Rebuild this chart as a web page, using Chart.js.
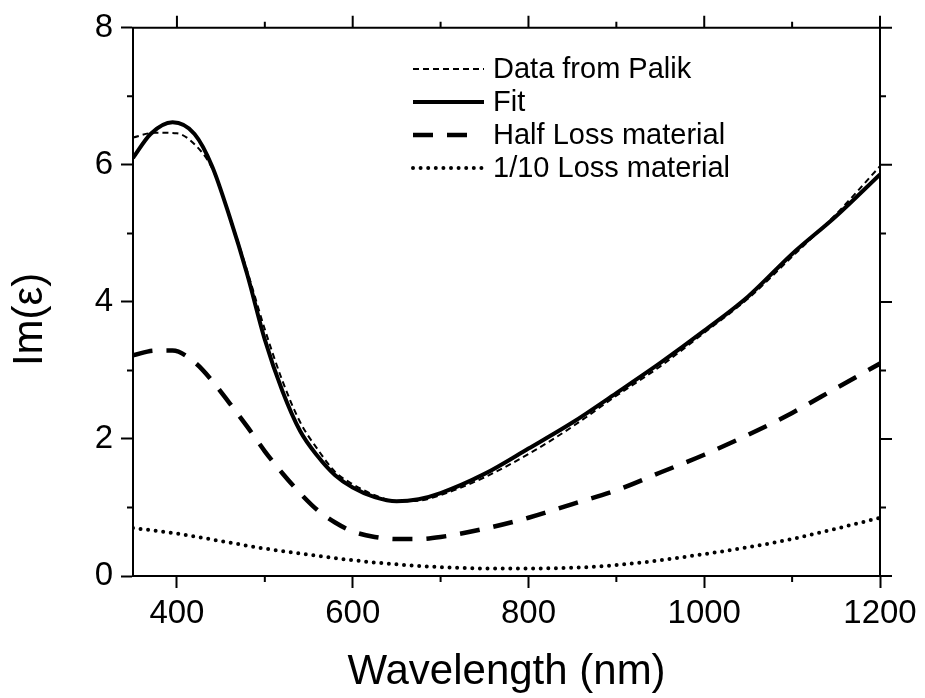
<!DOCTYPE html>
<html lang="en">
<head>
    <meta charset="UTF-8">
    <title>Im(ε) vs wavelength</title>
    <script src="https://cdn.jsdelivr.net/npm/chart.js"></script>
    <style>
        body {
            margin: 0;
            background-color: white;
        }
        .chart-box {
            width: 925px;
            height: 698px;
            position: relative;
        }
    </style>
</head>
<body>
    <div class="chart-box">
        <canvas id="epsChart"></canvas>
    </div>

    <script>
        // Imaginary part of the permittivity, read per series
        const palikWl = [350, 375, 400, 420, 440, 460, 480, 500, 520, 540, 560, 580, 600, 625, 650, 675, 700, 750, 800, 850, 900, 950, 1000, 1050, 1100, 1150, 1200];
        const palikIm = [6.40, 6.47, 6.46, 6.30, 5.95, 5.25, 4.45, 3.60, 2.85, 2.25, 1.85, 1.52, 1.34, 1.18, 1.09, 1.10, 1.18, 1.44, 1.78, 2.18, 2.63, 3.06, 3.55, 4.05, 4.66, 5.28, 5.98];

        const fitWl = [350, 370, 395, 420, 440, 460, 480, 500, 520, 540, 560, 580, 600, 625, 650, 675, 700, 750, 800, 850, 900, 950, 1000, 1050, 1100, 1150, 1200];
        const fitIm = [6.10, 6.45, 6.62, 6.45, 5.98, 5.24, 4.40, 3.45, 2.70, 2.12, 1.75, 1.47, 1.29, 1.15, 1.09, 1.12, 1.21, 1.49, 1.86, 2.24, 2.67, 3.11, 3.58, 4.08, 4.70, 5.25, 5.86];

        const halfWl = [350, 375, 395, 420, 440, 460, 480, 500, 520, 540, 560, 580, 600, 625, 650, 675, 700, 750, 800, 850, 900, 950, 1000, 1050, 1100, 1150, 1200];
        const halfIm = [3.22, 3.29, 3.29, 3.12, 2.85, 2.52, 2.18, 1.82, 1.50, 1.21, 0.96, 0.78, 0.65, 0.57, 0.54, 0.54, 0.57, 0.69, 0.85, 1.05, 1.25, 1.51, 1.77, 2.06, 2.38, 2.74, 3.10];

        const tenthWl = [350, 400, 450, 500, 550, 600, 650, 700, 750, 800, 850, 900, 950, 1000, 1050, 1100, 1150, 1200];
        const tenthIm = [0.70, 0.62, 0.51, 0.40, 0.31, 0.23, 0.17, 0.13, 0.11, 0.11, 0.12, 0.16, 0.23, 0.32, 0.42, 0.54, 0.69, 0.85];

        const seriesNames = ['Data from Palik', 'Fit', 'Half Loss material', '1/10 Loss material'];

        const xMajor = [400, 600, 800, 1000, 1200];
        const xMinor = [500, 700, 900, 1100];
        const yMajor = [0, 2, 4, 6, 8];
        const yMinor = [1, 3, 5, 7];

        const FONT = 'Liberation Sans, Arial, sans-serif';

        function toPoints(xs, ys) {
            return xs.map((x, i) => ({ x: x, y: ys[i] }));
        }

        // frame on top/right plus all tick marks that Chart.js doesn't draw
        const frameTicks = {
            id: 'frameTicks',
            afterDraw(chart) {
                const { ctx, chartArea: a, scales } = chart;
                const xs = scales.x, ys = scales.y;
                const major = 12, minor = 6;
                ctx.save();
                ctx.strokeStyle = '#000';
                ctx.lineWidth = 2;
                ctx.lineCap = 'butt';
                ctx.beginPath();
                ctx.moveTo(a.left - 1, a.top);
                ctx.lineTo(a.right, a.top);
                ctx.lineTo(a.right, a.bottom + 1);
                // top axis
                xMajor.forEach(v => {
                    const px = xs.getPixelForValue(v);
                    ctx.moveTo(px, a.top); ctx.lineTo(px, a.top - major);
                });
                xMinor.forEach(v => {
                    const px = xs.getPixelForValue(v);
                    ctx.moveTo(px, a.top); ctx.lineTo(px, a.top - minor);
                    ctx.moveTo(px, a.bottom); ctx.lineTo(px, a.bottom + minor);
                });
                // right axis
                yMajor.forEach(v => {
                    const py = ys.getPixelForValue(v);
                    ctx.moveTo(a.right, py); ctx.lineTo(a.right + major, py);
                });
                yMinor.forEach(v => {
                    const py = ys.getPixelForValue(v);
                    ctx.moveTo(a.right, py); ctx.lineTo(a.right + minor, py);
                    ctx.moveTo(a.left, py); ctx.lineTo(a.left - minor, py);
                });
                ctx.stroke();
                ctx.restore();
            }
        };

        // legend drawn inside the plot, line sample then label
        const insideLegend = {
            id: 'insideLegend',
            afterDraw(chart) {
                const ctx = chart.ctx;
                const x0 = 413, x1 = 484, textX = 493;
                ctx.save();
                ctx.font = '29px ' + FONT;
                ctx.fillStyle = '#000';
                ctx.textBaseline = 'alphabetic';
                chart.data.datasets.forEach((ds, i) => {
                    const base = 78 + i * 33;
                    const ly = base - 9;
                    ctx.beginPath();
                    ctx.strokeStyle = ds.borderColor;
                    ctx.lineWidth = ds.borderWidth;
                    ctx.lineCap = ds.borderCapStyle || 'butt';
                    ctx.setLineDash(ds.borderDash || []);
                    ctx.moveTo(x0, ly);
                    ctx.lineTo(i === 2 ? 472 : x1, ly);
                    ctx.stroke();
                    ctx.setLineDash([]);
                    ctx.fillText(ds.label, textX, base);
                });
                ctx.restore();
            }
        };

        const ctx = document.getElementById('epsChart').getContext('2d');
        const chart = new Chart(ctx, {
            type: 'line',
            data: {
                datasets: [
                    { label: seriesNames[0], data: toPoints(palikWl, palikIm), borderColor: '#000', borderWidth: 2, borderDash: [6, 4], pointRadius: 0, cubicInterpolationMode: 'monotone', fill: false },
                    { label: seriesNames[1], data: toPoints(fitWl, fitIm), borderColor: '#000', borderWidth: 4, pointRadius: 0, cubicInterpolationMode: 'monotone', fill: false },
                    { label: seriesNames[2], data: toPoints(halfWl, halfIm), borderColor: '#000', borderWidth: 4.5, borderDash: [20, 14], pointRadius: 0, cubicInterpolationMode: 'monotone', fill: false },
                    { label: seriesNames[3], data: toPoints(tenthWl, tenthIm), borderColor: '#000', borderWidth: 4, borderDash: [0, 7.6], borderCapStyle: 'round', pointRadius: 0, cubicInterpolationMode: 'monotone', fill: false }
                ]
            },
            options: {
                responsive: true,
                maintainAspectRatio: false,
                animation: false,
                layout: { padding: { top: 25, right: 45, left: 0, bottom: 0 } },
                plugins: {
                    legend: { display: false },
                    tooltip: { enabled: false }
                },
                scales: {
                    x: {
                        type: 'linear',
                        min: 350,
                        max: 1200,
                        afterBuildTicks: s => { s.ticks = xMajor.map(v => ({ value: v })); },
                        afterFit: s => { s.height = 122; },
                        ticks: {
                            font: { family: FONT, size: 33 },
                            color: '#000',
                            padding: 6,
                            maxRotation: 0,
                            autoSkip: false,
                            callback: v => String(v)
                        },
                        grid: { display: true, drawOnChartArea: false, drawTicks: true, tickLength: 12, tickWidth: 2, tickColor: '#000' },
                        border: { display: true, color: '#000', width: 2 },
                        title: {
                            display: true,
                            text: 'Wavelength (nm)',
                            color: '#000',
                            font: { family: FONT, size: 42 },
                            padding: { top: 0, bottom: 0 }
                        }
                    },
                    y: {
                        min: 0,
                        max: 8,
                        afterBuildTicks: s => { s.ticks = yMajor.map(v => ({ value: v })); },
                        afterFit: s => { s.width = 133; },
                        ticks: {
                            font: { family: FONT, size: 33 },
                            color: '#000',
                            padding: 8,
                            callback: v => String(v)
                        },
                        grid: { display: true, drawOnChartArea: false, drawTicks: true, tickLength: 12, tickWidth: 2, tickColor: '#000' },
                        border: { display: true, color: '#000', width: 2 },
                        title: {
                            display: true,
                            text: 'Im(ε)   ',
                            color: '#000',
                            font: { family: FONT, size: 42 },
                            padding: { top: 5, bottom: 0 }
                        }
                    }
                }
            },
            plugins: [frameTicks, insideLegend]
        });
    </script>
</body>
</html>
